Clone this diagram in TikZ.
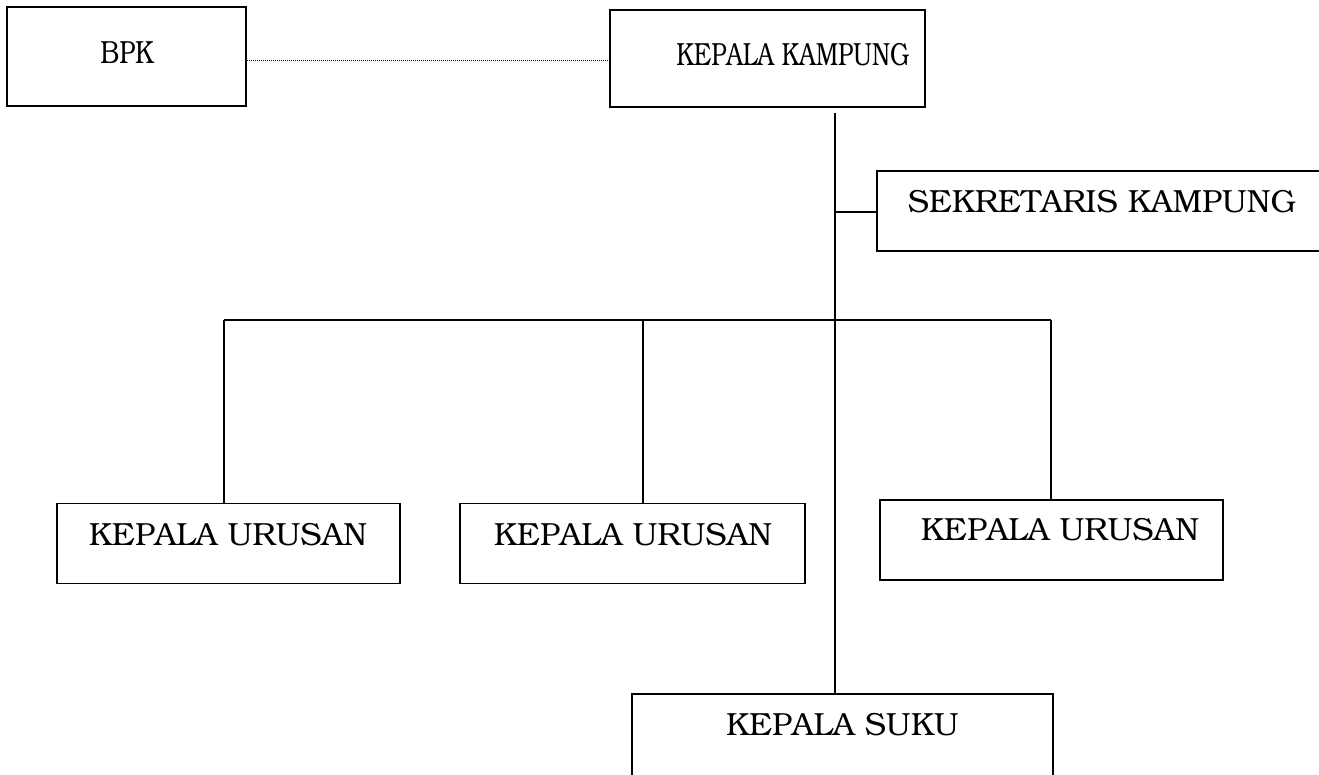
\documentclass[tikz,border=0pt]{standalone}
\usepackage[T1]{fontenc}
\usepackage{bookman}
\begin{document}
\begin{tikzpicture}[x=1pt,y=-1pt,
  box/.style={draw, line width=1.5pt, inner sep=0pt},
  lbl/.style={anchor=base, inner sep=0pt, font=\fontsize{32}{36}\selectfont},
  wire/.style={line width=1.4pt}]
\useasboundingbox (0,0) rectangle (1319,774);
% boxes
\node[box, minimum width=239pt, minimum height=99pt] (bpk) at (126.5,56.5) {};
\node[box, minimum width=315pt, minimum height=97pt] (kk) at (767.5,58.5) {};
\node[box, minimum width=460pt, minimum height=80pt] (sk) at (1107,211) {};
\node[box, minimum width=343pt, minimum height=80pt] (ku1) at (228.5,543.5) {};
\node[box, minimum width=345pt, minimum height=80pt] (ku2) at (632.5,543.5) {};
\node[box, minimum width=343pt, minimum height=80pt] (ku3) at (1051.5,540) {};
\node[box, minimum width=421pt, minimum height=100pt] (ks) at (842.5,744) {};
% texts
\node[lbl] (bpkt) at (127,63) {\scalebox{0.8}[1]{BPK}};
\node[lbl] (kkt) at (793,65) {\scalebox{0.76}[1]{KEPALA KAMPUNG}};
\node[lbl] (skt) at (1102,212) {SEKRETARIS KAMPUNG};
\node[lbl] (ku1t) at (228,545) {KEPALA URUSAN};
\node[lbl] (ku2t) at (633,545) {KEPALA URUSAN};
\node[lbl] (ku3t) at (1060,540) {KEPALA URUSAN};
\node[lbl] (kst) at (842.5,735) {KEPALA SUKU};
% coordinates
\coordinate (top) at (835,113);
\coordinate (skj) at (835,212);
\coordinate (busl) at (224,320);
\coordinate (busm) at (643,320);
\coordinate (busr) at (1051,320);
% connectors
\draw[line width=1pt, dotted, dash pattern=on 0.8pt off 1.2pt] (bpk.east |- 0,60) -- (kk.west |- 0,60);
\draw[wire] (top) -- (ks.north -| top);
\draw[wire] (skj) -- (sk.west |- skj);
\draw[wire] (busl) -- (busr);
\draw[wire] (busl) -- (ku1.north -| busl);
\draw[wire] (busm) -- (ku2.north -| busm);
\draw[wire] (busr) -- (ku3.north -| busr);
\end{tikzpicture}
\end{document}
